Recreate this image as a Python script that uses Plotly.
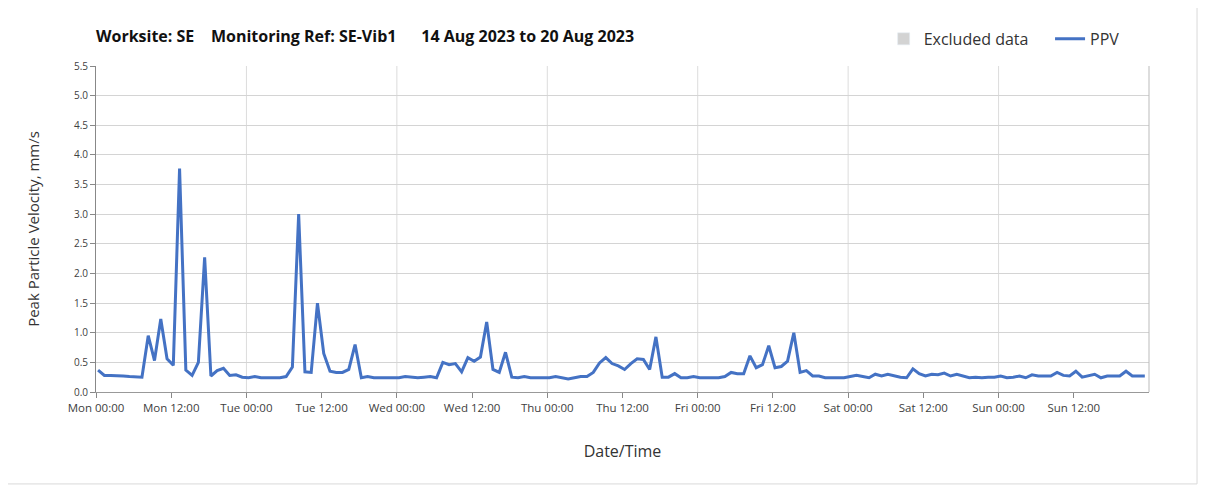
import pandas as pd
import plotly.graph_objects as go

# Hourly PPV readings (mm/s), one list per day, 14-20 Aug 2023
mon_ppv = [0.37, 0.28, 0.28, 0.28, 0.27, 0.26, 0.25, 0.25, 0.95, 0.53, 1.23, 0.56,
           0.45, 3.77, 0.37, 0.28, 0.50, 2.27, 0.27, 0.36, 0.40, 0.28, 0.29, 0.25]
tue_ppv = [0.24, 0.26, 0.24, 0.24, 0.24, 0.24, 0.26, 0.42, 3.00, 0.34, 0.33, 1.50,
           0.65, 0.35, 0.33, 0.33, 0.38, 0.80, 0.24, 0.26, 0.24, 0.24, 0.24, 0.24]
wed_ppv = [0.24, 0.26, 0.25, 0.24, 0.25, 0.26, 0.24, 0.50, 0.46, 0.48, 0.34, 0.58,
           0.52, 0.59, 1.18, 0.38, 0.33, 0.67, 0.25, 0.24, 0.26, 0.24, 0.24, 0.24]
thu_ppv = [0.24, 0.26, 0.24, 0.22, 0.24, 0.26, 0.26, 0.33, 0.49, 0.58, 0.48, 0.44,
           0.38, 0.48, 0.56, 0.55, 0.38, 0.93, 0.25, 0.25, 0.31, 0.24, 0.24, 0.26]
fri_ppv = [0.24, 0.24, 0.24, 0.24, 0.26, 0.33, 0.31, 0.31, 0.61, 0.41, 0.46, 0.78,
           0.41, 0.43, 0.52, 1.00, 0.33, 0.36, 0.27, 0.27, 0.24, 0.24, 0.24, 0.24]
sat_ppv = [0.26, 0.28, 0.26, 0.24, 0.30, 0.27, 0.30, 0.27, 0.25, 0.24, 0.39, 0.31,
           0.27, 0.30, 0.29, 0.32, 0.27, 0.30, 0.27, 0.24, 0.25, 0.24, 0.25, 0.25]
sun_ppv = [0.27, 0.24, 0.25, 0.27, 0.24, 0.29, 0.27, 0.27, 0.27, 0.33, 0.28, 0.27,
           0.35, 0.25, 0.27, 0.30, 0.24, 0.27, 0.27, 0.27, 0.35, 0.27, 0.27, 0.27]

tick_labels = ["Mon 00:00", "Mon 12:00", "Tue 00:00", "Tue 12:00", "Wed 00:00", "Wed 12:00",
               "Thu 00:00", "Thu 12:00", "Fri 00:00", "Fri 12:00", "Sat 00:00", "Sat 12:00",
               "Sun 00:00", "Sun 12:00"]

ppv = mon_ppv + tue_ppv + wed_ppv + thu_ppv + fri_ppv + sat_ppv + sun_ppv
times = pd.date_range("2023-08-14 00:20", periods=len(ppv), freq="h")
tick_vals = pd.date_range("2023-08-14 00:00", periods=len(tick_labels), freq="12h")
day_starts = pd.date_range("2023-08-15", periods=6, freq="D")

FONT = "Open Sans"
nb = "\u00a0"
title_text = f"Worksite: SE{nb*4}Monitoring Ref: SE-Vib1{nb*6}14 Aug 2023 to 20 Aug 2023"

fig = go.Figure()
# empty series, only there for its legend entry
fig.add_trace(go.Bar(x=[times[0]], y=[None], name="Excluded data" + nb * 4, marker_color="#d3d3d3"))
fig.add_trace(go.Scatter(x=times, y=ppv, mode="lines", name="PPV",
                         line=dict(color="#4472C4", width=3)))

# vertical gridlines only at midnight
for d in day_starts:
    fig.add_shape(type="line", x0=d, x1=d, y0=0, y1=1, xref="x", yref="paper",
                  line=dict(color="#dcdcdc", width=1), layer="below")

# outer frame
fig.add_shape(type="rect", xref="paper", yref="paper", x0=-0.0864, x1=1.0456, y0=-0.282, y1=1.19,
              line=dict(color="#d9d9d9", width=1))

# page body adds an 8px offset, margins compensate for it
fig.update_layout(
    width=1207, height=486,
    paper_bgcolor="white", plot_bgcolor="white",
    margin=dict(l=88, r=66, t=58, b=102, autoexpand=False),
    font=dict(family=FONT, color="#333333"),
    title=dict(text=title_text, x=0, xref="paper", xanchor="left", y=0.942, yanchor="middle",
               font=dict(family=FONT, size=16, color="#111111", weight="bold")),
    legend=dict(orientation="h", x=0.748, xanchor="left", y=1.083, yanchor="middle",
                font=dict(size=16, color="#333333"), traceorder="normal",
                itemwidth=30, bgcolor="rgba(0,0,0,0)"),
    showlegend=True,
    xaxis=dict(
        type="date", automargin=False,
        range=["2023-08-14 00:00", "2023-08-21 00:00"],
        tickvals=tick_vals, ticktext=tick_labels,
        showgrid=False, ticks="outside", ticklen=5, tickcolor="#888888",
        showline=True, linecolor="#999999", mirror=False,
        tickfont=dict(size=11.5, color="#404040"),
        title=dict(text="Date/Time", font=dict(size=16, color="#333333"), standoff=32),
    ),
    yaxis=dict(
        automargin=False,
        range=[0, 5.5], dtick=0.5, tickformat=".1f",
        showgrid=True, gridcolor="#d4d4d4", gridwidth=1,
        ticks="outside", ticklen=5, tickcolor="#888888",
        showline=True, linecolor="#888888",
        tickfont=dict(size=10, color="#404040"),
        zeroline=False,
        title=dict(text="Peak Particle Velocity, mm/s", font=dict(size=15, color="#333333"), standoff=30),
    ),
)
# right border of the plot area
fig.add_shape(type="line", xref="paper", yref="paper", x0=1, x1=1, y0=0, y1=1,
              line=dict(color="#bbbbbb", width=1))

fig.write_html("out.html")
